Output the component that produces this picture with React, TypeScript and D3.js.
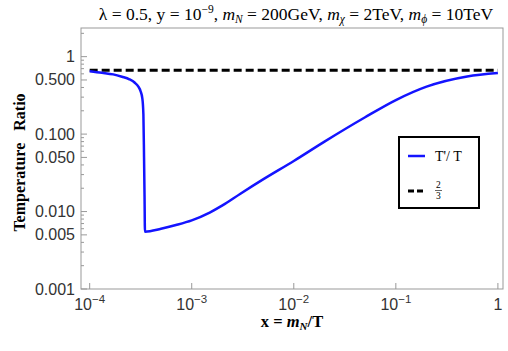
import * as d3 from 'd3'

// T'/T curve
const xs = [1e-4, 1.32e-4, 1.7e-4, 2.07e-4, 2.45e-4, 2.77e-4, 3.0e-4, 3.15e-4, 3.28e-4, 3.36e-4, 3.41e-4, 3.45e-4, 3.48e-4, 5e-4, 7e-4, 1e-3, 1.5e-3, 2e-3, 3e-3, 5e-3, 1e-2, 2e-2, 5e-2, 1e-1, 2e-1, 5e-1, 1]
const ratio = [0.65, 0.62, 0.59, 0.55, 0.51, 0.46, 0.41, 0.36, 0.29, 0.18, 0.05, 0.015, 0.0055, 0.006, 0.0067, 0.0077, 0.0097, 0.012, 0.017, 0.026, 0.045, 0.08, 0.165, 0.275, 0.41, 0.555, 0.615]
const twoThirds = 2 / 3

const yTickVals = [1, 0.5, 0.1, 0.05, 0.01, 0.005, 0.001]
const yTickLabels = ['1', '0.500', '0.100', '0.050', '0.010', '0.005', '0.001']
const xTickVals = [1e-4, 1e-3, 1e-2, 1e-1, 1]
const xTickExp = ['-4', '-3', '-2', '-1', '']

const W = 508
const H = 351
const left = 81
const right = 503
const top = 28
const bottom = 289

const x = d3.scaleLog().domain([10 ** -4.085, 10 ** 0.05]).range([left, right])
const y = d3.scaleLog().domain([0.001, 10 ** 0.37]).range([bottom, top])

export default function App() {
  const pts = xs.map((v, i) => [v, ratio[i]] as [number, number])
  const line = d3
    .line<[number, number]>()
    .x((d) => x(d[0]))
    .y((d) => y(d[1]))
    .curve(d3.curveMonotoneX)

  const minor: number[] = []
  for (let e = -3; e <= 0; e++) {
    for (let k = 1; k < 10; k++) {
      const v = k * 10 ** e
      if (v <= 2.3 && !yTickVals.includes(+v.toPrecision(3))) minor.push(v)
    }
  }

  const gray = '#999'
  const tickFont = 'Liberation Sans, Arial, sans-serif'
  const serif = 'Liberation Serif, Times New Roman, serif'

  return (
    <svg width={W} height={H} style={{ position: 'absolute', left: 0, top: 0 }}>
      <rect x={0} y={0} width={W} height={H} fill="#fff" />
      <text x={296} y={20} fontFamily={serif} fontSize={17.5} textAnchor="middle" fill="#000">
        λ = 0.5, y = 10<tspan dy={-7} fontSize={11.5}>−9</tspan>
        <tspan dy={7}>, </tspan>
        <tspan fontStyle="italic">m</tspan>
        <tspan fontStyle="italic" fontSize={11.5} dy={3}>N</tspan>
        <tspan dy={-3}> = 200GeV, </tspan>
        <tspan fontStyle="italic">m</tspan>
        <tspan fontStyle="italic" fontSize={11.5} dy={3}>χ</tspan>
        <tspan dy={-3}> = 2TeV, </tspan>
        <tspan fontStyle="italic">m</tspan>
        <tspan fontStyle="italic" fontSize={11.5} dy={3}>ϕ</tspan>
        <tspan dy={-3}> = 10TeV</tspan>
      </text>

      <rect x={left} y={top} width={right - left} height={bottom - top} fill="none" stroke={gray} strokeWidth={1} />

      {minor.map((v, i) => (
        <line key={'m' + i} x1={left} x2={left + 3} y1={y(v)} y2={y(v)} stroke={gray} />
      ))}
      {yTickVals.map((v, i) => (
        <g key={'y' + i}>
          <line x1={left} x2={left + 6} y1={y(v)} y2={y(v)} stroke={gray} />
          <text x={left - 6} y={y(v) + 5.5} textAnchor="end" fontFamily={tickFont} fontSize={16} fill="#333">
            {yTickLabels[i]}
          </text>
        </g>
      ))}
      {xTickVals.map((v, i) => (
        <g key={'x' + i}>
          <line x1={x(v)} x2={x(v)} y1={bottom} y2={bottom - 6} stroke={gray} />
          <text x={x(v)} y={bottom + 21} textAnchor="middle" fontFamily={tickFont} fontSize={16} fill="#333">
            {xTickExp[i] ? (
              <>
                10<tspan dy={-7} fontSize={11.5}>{'−' + xTickExp[i].slice(1)}</tspan>
              </>
            ) : (
              '1'
            )}
          </text>
        </g>
      ))}

      <line
        x1={x(1e-4)}
        x2={x(1)}
        y1={y(twoThirds)}
        y2={y(twoThirds)}
        stroke="#000"
        strokeWidth={3}
        strokeDasharray="8,4"
      />
      <path d={line(pts) ?? ''} fill="none" stroke="#1414ff" strokeWidth={2.5} />

      <g>
        <rect x={399} y={137} width={80} height={71} fill="#fff" stroke="#000" strokeWidth={2} />
        <line x1={408} x2={425} y1={156} y2={156} stroke="#1414ff" strokeWidth={2.5} />
        <text x={435} y={161} fontFamily={serif} fontSize={14}>T'/ T</text>
        <line x1={408} x2={425} y1={191} y2={191} stroke="#000" strokeWidth={3} strokeDasharray="6,3" />
        <text x={436} y={188} fontFamily={serif} fontSize={9.5}>2</text>
        <line x1={435} x2={442} y1={190.5} y2={190.5} stroke="#000" strokeWidth={0.6} />
        <text x={436} y={199} fontFamily={serif} fontSize={9.5}>3</text>
      </g>

      <text
        transform={`translate(25, ${(top + bottom) / 2 + 4}) rotate(-90)`}
        textAnchor="middle"
        fontFamily={serif}
        fontWeight="bold"
        fontSize={16}
        style={{ whiteSpace: 'pre' }}
      >
        {'Temperature\u00a0\u00a0\u00a0Ratio'}
      </text>
      <text x={292} y={327} textAnchor="middle" fontFamily={serif} fontWeight="bold" fontSize={16.5}>
        x = <tspan fontStyle="italic">m</tspan>
        <tspan fontStyle="italic" fontSize={11} dy={3}>N</tspan>
        <tspan dy={-3}>/T</tspan>
      </text>
    </svg>
  )
}
